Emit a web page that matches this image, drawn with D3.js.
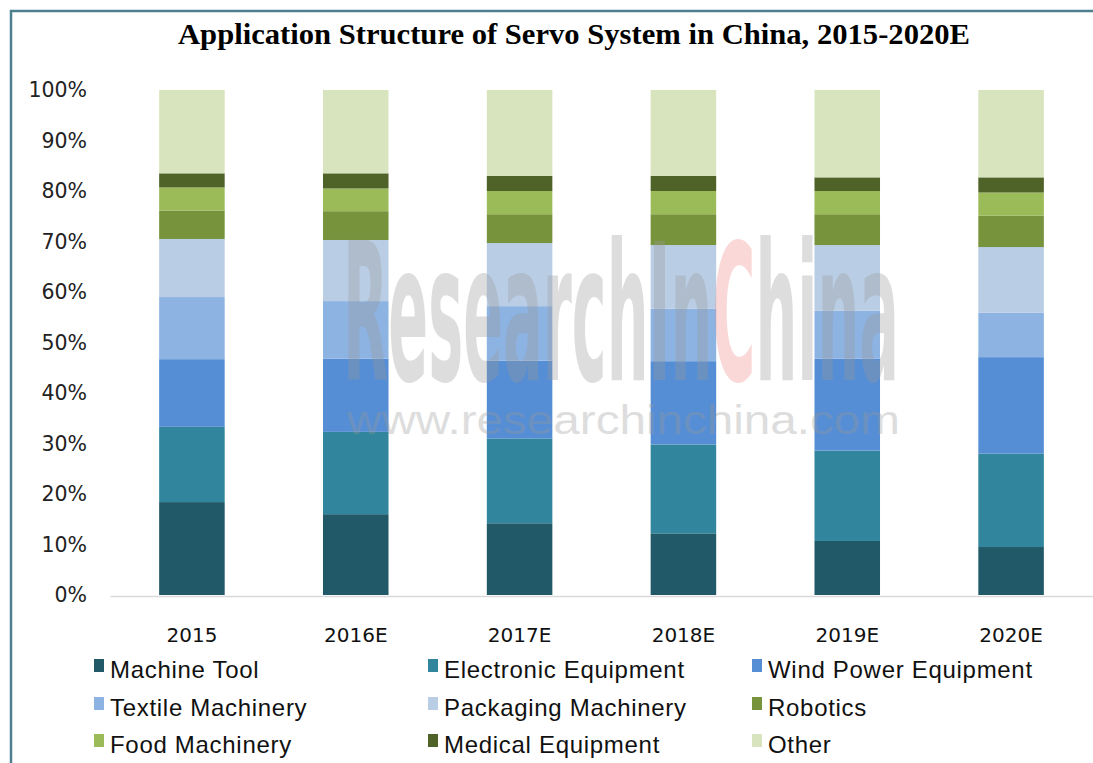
<!DOCTYPE html>
<html>
<head>
<meta charset="utf-8">
<title>Application Structure of Servo System in China</title>
<script src="https://cdnjs.cloudflare.com/ajax/libs/d3/7.8.5/d3.min.js"></script>
<style>
    body { margin: 0; background: #fff; }
    svg { display: block; }
</style>
</head>
<body>
<div id="chart"></div>
<script>
    // data (share in %)
    var years = ["2015", "2016E", "2017E", "2018E", "2019E", "2020E"];
    var categories = ["Machine Tool", "Electronic Equipment", "Wind Power Equipment",
                      "Textile Machinery", "Packaging Machinery", "Robotics",
                      "Food Machinery", "Medical Equipment", "Other"];
    var machineTool = [18.4, 16.0, 14.2, 12.2, 10.7, 9.5];
    var electronic  = [14.9, 16.3, 16.8, 17.6, 17.9, 18.5];
    var windPower   = [13.4, 14.5, 15.4, 16.5, 18.2, 19.1];
    var textile     = [12.3, 11.4, 10.8, 10.4, 9.5, 8.8];
    var packaging   = [11.5, 12.1, 12.5, 12.6, 13.0, 13.0];
    var robotics    = [5.6, 5.7, 5.7, 6.1, 6.1, 6.2];
    var food        = [4.6, 4.5, 4.6, 4.6, 4.6, 4.6];
    var medical     = [2.8, 3.0, 3.0, 3.0, 2.7, 3.0];
    var other       = [16.5, 16.5, 17.0, 17.0, 17.3, 17.3];
    var yTicks = [0, 10, 20, 30, 40, 50, 60, 70, 80, 90, 100];

    var seriesValues = [machineTool, electronic, windPower, textile, packaging,
                        robotics, food, medical, other];
    var colors = ["#215968", "#31859c", "#558ed5", "#8db3e2", "#b9cde5",
                  "#77933c", "#9bbb59", "#4f6228", "#d7e4bd"];

    // build rows for d3.stack
    var rows = years.map(function (y, i) {
        var row = {year: y};
        categories.forEach(function (c, k) { row[c] = seriesValues[k][i]; });
        return row;
    });

    var W = 1093, H = 763;
    var margin = {top: 90, right: 0, bottom: 168, left: 110};
    var width = W - margin.left - margin.right;
    var height = H - margin.top - margin.bottom;

    var svg = d3.select("#chart").append("svg")
        .attr("width", W)
        .attr("height", H);

    // frame
    svg.append("path")
        .attr("d", "M11," + H + "V11H" + W)
        .attr("fill", "none")
        .attr("stroke", "#4e7f8e")
        .attr("stroke-width", 2.5);

    // title
    svg.append("text")
        .attr("x", 574)
        .attr("y", 44)
        .attr("text-anchor", "middle")
        .attr("textLength", 792)
        .attr("lengthAdjust", "spacingAndGlyphs")
        .style("font-family", "'Liberation Serif', 'Times New Roman', serif")
        .style("font-weight", "bold")
        .style("font-size", "29px")
        .style("fill", "#000")
        .text("Application Structure of Servo System in China, 2015-2020E");

    var g = svg.append("g")
        .attr("transform", "translate(" + margin.left + "," + margin.top + ")");

    var x = d3.scaleBand().domain(years).range([0, width])
        .paddingInner(0.6).paddingOuter(0.3);
    var y = d3.scaleLinear().domain([0, 100]).range([height, 0]);

    var stack = d3.stack().keys(categories);
    var layers = stack(rows);

    g.selectAll("g.layer")
        .data(layers)
        .enter().append("g")
        .attr("class", "layer")
        .attr("fill", function (d, i) { return colors[i]; })
        .selectAll("rect")
        .data(function (d) { return d; })
        .enter().append("rect")
        .attr("x", function (d) { return x(d.data.year); })
        .attr("width", x.bandwidth())
        .attr("y", function (d) { return y(d[1]); })
        .attr("height", function (d) { return y(d[0]) - y(d[1]); });

    // watermark
    var wm = svg.append("g").style("opacity", 0.33);
    var big = wm.append("text")
        .attr("x", 343)
        .attr("y", 380)
        .attr("textLength", 556)
        .attr("lengthAdjust", "spacingAndGlyphs")
        .style("font-family", "'DejaVu Sans Condensed', 'DejaVu Sans', sans-serif")
        .style("font-weight", "bold")
        .style("font-size", "190px")
        .style("fill", "#9a9a9a");
    big.append("tspan").text("ResearchIn");
    big.append("tspan").style("fill", "#f08a8a").text("C");
    big.append("tspan").text("hina");
    wm.append("text")
        .attr("x", 347)
        .attr("y", 434)
        .attr("textLength", 553)
        .attr("lengthAdjust", "spacingAndGlyphs")
        .style("font-family", "'Liberation Sans', Arial, sans-serif")
        .style("font-size", "40px")
        .style("fill", "#9a9a9a")
        .text("www.researchinchina.com");

    // x axis
    var xAxis = g.append("g")
        .attr("transform", "translate(0," + (height + 1) + ")")
        .call(d3.axisBottom(x).tickSize(0).tickPadding(32));
    xAxis.select(".domain").attr("stroke", "#d9d9d9").attr("stroke-width", 1.5);
    xAxis.selectAll("text")
        .style("font-family", "'DejaVu Sans', sans-serif")
        .style("font-size", "20px")
        .style("fill", "#111");

    // y axis
    var yAxis = g.append("g")
        .call(d3.axisLeft(y).tickValues(yTicks).tickSize(0).tickPadding(23)
            .tickFormat(function (d) { return d + "%"; }));
    yAxis.select(".domain").remove();
    yAxis.selectAll("text")
        .style("font-family", "'DejaVu Sans', sans-serif")
        .style("font-size", "20.5px")
        .style("fill", "#222");

    // legend, three columns
    var colX = [94, 428, 752];
    var rowY = [678, 716, 753];
    var legend = svg.selectAll("g.legend")
        .data(categories)
        .enter().append("g")
        .attr("class", "legend")
        .attr("transform", function (d, i) {
            return "translate(" + colX[i % 3] + "," + rowY[Math.floor(i / 3)] + ")";
        });
    legend.append("rect")
        .attr("x", 0)
        .attr("y", -19)
        .attr("width", 10)
        .attr("height", 13)
        .attr("fill", function (d, i) { return colors[i]; });
    legend.append("text")
        .attr("x", 16)
        .attr("y", 0)
        .style("font-family", "'Liberation Sans', Arial, sans-serif")
        .style("font-size", "24px")
        .style("letter-spacing", "0.7px")
        .style("fill", "#111")
        .text(function (d) { return d; });
</script>
</body>
</html>
